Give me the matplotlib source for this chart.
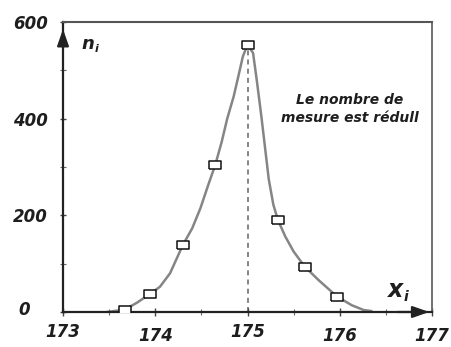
import numpy as np
import matplotlib
matplotlib.use('Agg')
import matplotlib.pyplot as plt
from matplotlib.transforms import ScaledTranslation

# mesures (carres)
xi = [173.67, 173.94, 174.30, 174.65, 175.0, 175.33, 175.62, 175.97]
ni = [5, 37, 139, 304, 553, 190, 94, 32]

# courbe
cx = [173.48, 173.67, 173.80, 173.94, 174.05, 174.16, 174.30, 174.40, 174.49,
      174.58, 174.65, 174.72, 174.78, 174.85, 174.90, 174.95, 175.0,
      175.06, 175.10, 175.15, 175.19, 175.23, 175.28, 175.33, 175.41, 175.50,
      175.62, 175.77, 175.97, 176.13, 176.26, 176.34]
cy = [0, 5, 19, 37, 52, 80, 139, 173, 215,
      266, 304, 352, 400, 446, 487, 529, 553,
      536, 480, 405, 340, 275, 222, 190, 156, 125,
      94, 66, 32, 14, 4, 2]

xticks = [173, 174, 175, 176, 177]
yticks = [0, 200, 400, 600]
note = "Le nombre de\nmesure est rédull"

txt = '#1e1e1e'
fnt = dict(family='DejaVu Sans', weight='bold', style='italic', color=txt)

fig = plt.figure(figsize=(4.52, 3.47), dpi=100)
ax = fig.add_axes([0.1394, 0.1009, 0.8164, 0.8357])
ax.set_xlim(173, 177)
ax.set_ylim(0, 600)

ax.plot(cx, cy, color='#858585', lw=1.8, zorder=2, solid_joinstyle='round')
ax.plot([175, 175], [0, 553], color='#707070', lw=1.2, ls=(0, (3, 2.5)), zorder=1)
rect = [(-1, -0.65), (1, -0.65), (1, 0.65), (-1, 0.65), (-1, -0.65)]
ax.plot(xi, ni, ls='none', marker=rect, ms=8, mfc='white', mec='#111111',
        mew=1.1, zorder=3)

for s in ['left', 'bottom']:
    ax.spines[s].set_color('#222222')
    ax.spines[s].set_linewidth(1.6)
ax.spines['top'].set_color('#555555')
ax.spines['top'].set_linewidth(1.5)
ax.spines['right'].set_color('#666666')
ax.spines['right'].set_linewidth(1.3)

# fleches des axes
ax.annotate('', xy=(1.0, 0), xytext=(0.9, 0), xycoords='axes fraction',
            arrowprops=dict(arrowstyle='-|>,head_length=1.0,head_width=0.35',
                            color='#222222', lw=1.6), zorder=4)
ax.annotate('', xy=(0, 0.985), xytext=(0, 0.9), xycoords='axes fraction',
            arrowprops=dict(arrowstyle='-|>,head_length=1.0,head_width=0.35',
                            color='#222222', lw=1.6), zorder=4)

ax.set_xticks(xticks)
ax.set_xticks(np.arange(173, 177.01, 0.5), minor=True)
ax.set_yticks(yticks)
ax.set_yticks([100, 300, 500], minor=True)
ax.set_xticklabels([str(v) for v in xticks], fontdict=fnt, fontsize=12)
ax.set_yticklabels([str(v) for v in yticks], fontdict=fnt, fontsize=12)
ax.tick_params(axis='x', which='major', direction='inout', length=6, width=1,
               color='#444444', pad=5)
ax.tick_params(axis='y', which='major', direction='inout', length=4, width=1,
               color='#444444', pad=9)
ax.tick_params(which='minor', direction='inout', length=4, width=0.8,
               color='#666666')

# decalage des etiquettes comme sur le scan
for lab in ax.get_xticklabels():
    if lab.get_text() in ('174', '176', '177'):
        lab.set_transform(lab.get_transform() +
                          ScaledTranslation(0, -4 / 100, fig.dpi_scale_trans))
for lab in ax.get_yticklabels():
    if lab.get_text() == '0':
        lab.set_transform(lab.get_transform() +
                          ScaledTranslation(-18 / 100, 4 / 100, fig.dpi_scale_trans))

ax.text(173.2, 555, 'n', fontsize=13, ha='left', va='center', **fnt)
ax.text(173.34, 545, 'i', fontsize=8, ha='left', va='center', **fnt)
ax.text(176.6, 45, 'x', fontsize=17, ha='center', va='center', **fnt)
ax.text(176.72, 30, 'i', fontsize=10, ha='center', va='center', **fnt)

ax.text(176.11, 420, note, fontsize=10, ha='center', va='center',
        linespacing=1.3, multialignment='center', **fnt)

fig.savefig('out.png', dpi=100)
